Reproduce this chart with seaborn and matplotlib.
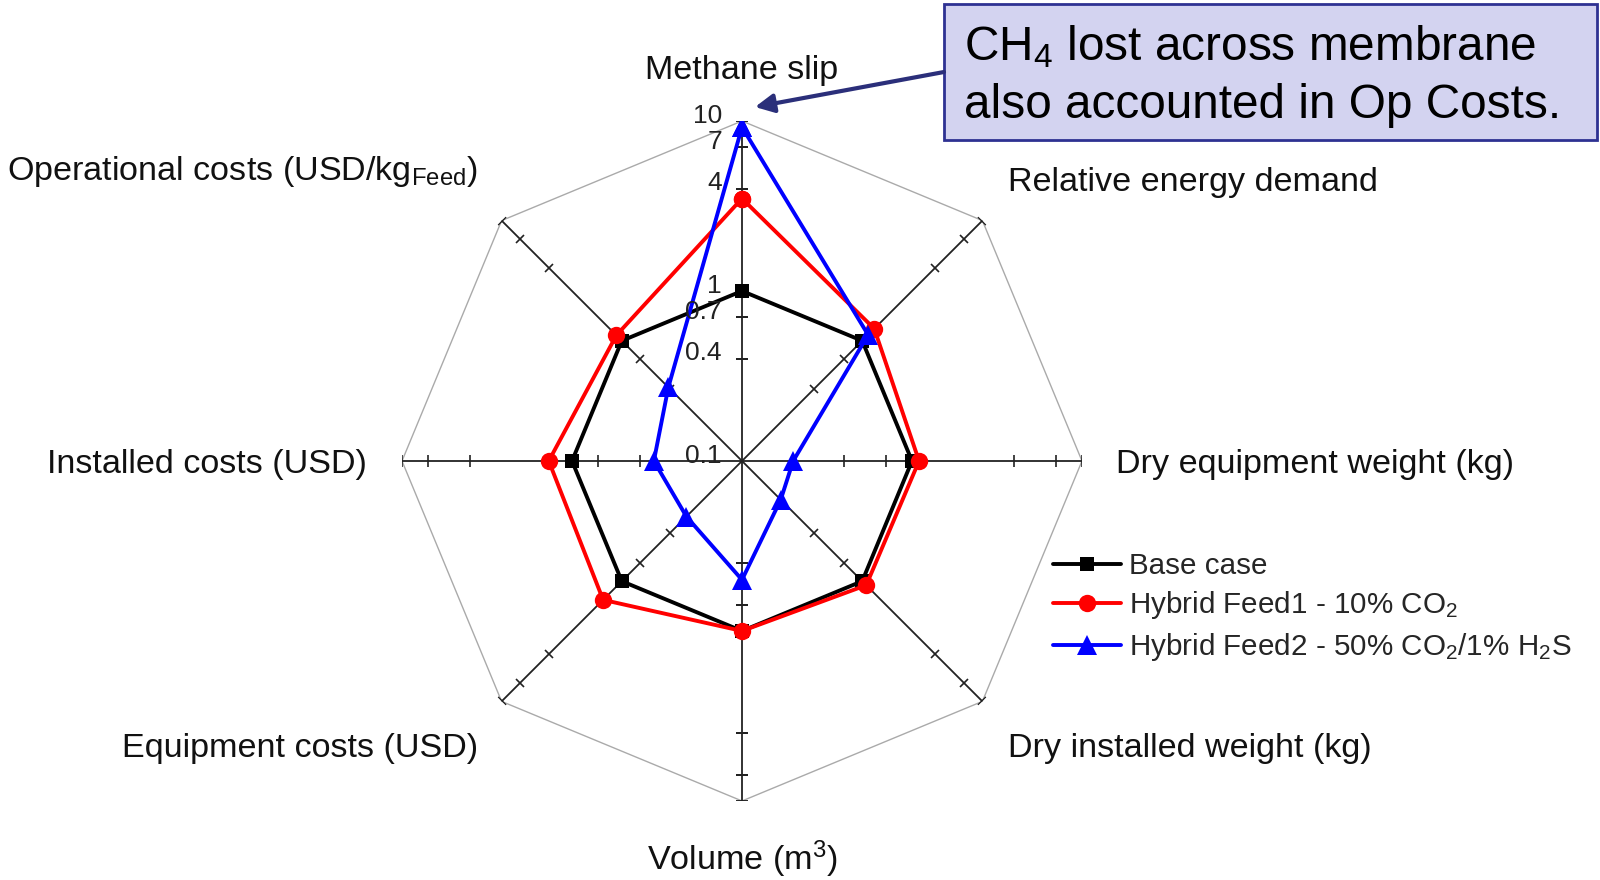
import numpy as np
import pandas as pd
import seaborn as sns
from matplotlib import pyplot as plt
from matplotlib.markers import MarkerStyle
from matplotlib.transforms import Affine2D
from matplotlib.patches import Rectangle

sns.set_theme(style="white")
plt.rcParams['font.family'] = ['Liberation Sans', 'DejaVu Sans']
plt.rcParams['mathtext.default'] = 'regular'

# --- data (log scale 0.1 .. 10) ---
categories = [
    "Methane slip",
    "Relative energy demand",
    "Dry equipment weight (kg)",
    "Dry installed weight (kg)",
    "Volume (m$^3$)",
    "Equipment costs (USD)",
    "Installed costs (USD)",
    "Operational costs (USD/kg$_{Feed}$)",
]
base_case = [1.0, 1.0, 1.0, 1.0, 1.0, 1.0, 1.0, 1.0]
hybrid_feed1 = [3.5, 1.26, 1.1, 1.08, 1.0, 1.43, 1.37, 1.11]
hybrid_feed2 = [9.2, 1.12, 0.2, 0.21, 0.5, 0.29, 0.33, 0.41]
series_names = ["Base case", "Hybrid Feed1 - 10% CO$_2$", "Hybrid Feed2 - 50% CO$_2$/1% H$_2$S"]
tick_values = [0.4, 0.7, 1, 4, 7, 10]
tick_labels = ["0.1", "0.4", "0.7", "1", "4", "7", "10"]
r_min, r_max = 0.1, 10

colors = ["black", "#ff0000", "#0000ff"]
markers = ["s", "o", "^"]
marker_sizes = [10.5, 12.5, 14]

n = len(categories)
angles = np.linspace(0, 2 * np.pi, n, endpoint=False)
angles_closed = np.append(angles, 2 * np.pi)

rows = []
for name, vals in zip(series_names, [base_case, hybrid_feed1, hybrid_feed2]):
    for th, v in zip(angles_closed, vals + vals[:1]):
        rows.append({"series": name, "theta": th, "value": v})
df = pd.DataFrame(rows)

fig = plt.figure(figsize=(16, 8.8), dpi=100)
ax = fig.add_axes([0.25125, 0.0898, 0.425, 0.7727], projection="polar")
ax.set_theta_zero_location("N")
ax.set_theta_direction(-1)
ax.set_rscale("log")
ax.set_rlim(r_min, r_max)

# outer octagon and spokes
ax.plot(angles_closed, [r_max] * (n + 1), color="#aaaaaa", lw=1.0, zorder=1)
for th in angles:
    ax.plot([th, th], [r_min, r_max], color="#222222", lw=1.3, zorder=2)
    phi = 90 - np.degrees(th)
    mk = MarkerStyle("|", transform=Affine2D().rotate_deg(phi))
    ax.plot([th] * len(tick_values), tick_values, ls="none", marker=mk,
            markersize=8, markeredgewidth=1.2, color="#222222", zorder=2)

# data series
for name, c, m, ms in zip(series_names, colors, markers, marker_sizes):
    sns.lineplot(data=df[df["series"] == name], x="theta", y="value",
                 sort=False, estimator=None, color=c, marker=m, markersize=ms,
                 markeredgecolor=c, markeredgewidth=0, lw=2.8, label=name,
                 legend=False, ax=ax, zorder=5)

ax.set_rlim(r_min, r_max)
ax.set_xticks([])
ax.set_yticks([])
ax.yaxis.set_minor_locator(plt.NullLocator())
ax.grid(False)
ax.spines["polar"].set_visible(False)
ax.set_xlabel("")
ax.set_ylabel("")
ax.patch.set_alpha(0)

# radial tick labels along the top spoke
for lab in tick_labels:
    ax.annotate(lab, xy=(0, float(lab)), xytext=(-14.4, 3.8), textcoords="offset points",
                ha="right", va="center", fontsize=19, color="#222222", zorder=6)

# category labels
label_pos = [
    (0.5, 1.074, "center"),
    (0.891, 0.91, "left"),
    (1.05, 0.495, "left"),
    (0.891, 0.077, "left"),
    (0.5, -0.085, "center"),
    (0.112, 0.077, "right"),
    (-0.051, 0.495, "right"),
    (0.112, 0.926, "right"),
]
for txt, (x, y, ha) in zip(categories, label_pos):
    ax.text(x, y, txt, transform=ax.transAxes, ha=ha, va="center", fontsize=24.6,
            color="#111111")

leg = ax.legend(loc="upper left", bbox_to_anchor=(1053 / 1600, 1 - 552 / 880),
                bbox_transform=fig.transFigure, frameon=False, fontsize=21.3,
                handlelength=2.3, handletextpad=0.28, labelspacing=0.32,
                borderpad=0, borderaxespad=0)

# note box with arrow
fig.add_artist(Rectangle((0.59, 0.8409), 0.408, 0.1545, transform=fig.transFigure,
                         facecolor="#d3d3f0", edgecolor="#2e3192", lw=2, zorder=3))
fig.text(964 / 1600, 1 - 47 / 880, "CH$_4$ lost across membrane", fontsize=34.4,
         ha="left", va="center", color="black", zorder=4)
fig.text(964 / 1600, 1 - 105 / 880, "also accounted in Op Costs.", fontsize=34.4,
         ha="left", va="center", color="black", zorder=4)
fig.add_artist(plt.Annotation("", xy=(755 / 1600, 1 - 107 / 880), xycoords="figure fraction",
                              xytext=(944 / 1600, 1 - 72 / 880), textcoords="figure fraction",
                              arrowprops=dict(arrowstyle="-|>", color="#2b2f7a", lw=3,
                                              mutation_scale=28, shrinkA=0, shrinkB=0)))

fig.savefig("out.png", dpi=100)
